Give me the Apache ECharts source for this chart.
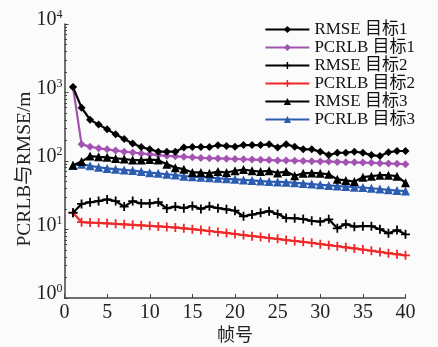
<!DOCTYPE html>
<html><head><meta charset="utf-8">
<script src="https://cdn.jsdelivr.net/npm/echarts@6/dist/echarts.min.js"></script>
<style>html,body{margin:0;padding:0;background:#fbfbfb}#c{width:438px;height:347px}</style>
</head><body><div id="c"></div>
<script>
const frames = [];
for (let i = 1; i <= 40; i++) frames.push(i);
const seriesNames = ['RMSE 目标1','PCRLB 目标1','RMSE 目标2','PCRLB 目标2','RMSE 目标3','PCRLB 目标3'];
const rmse1 = [1200,600,400,340,290,245,210,180,160,148,137,137,137,158,160,160,160,170,165,162,171,171,171,175,158,175,162,148,148,137,122,132,132,137,132,122,118,134,140,140];
const pcrlb1 = [1200,175,162,153,148,142,137,133,129,125,122,119,117,115,113,111,110,109,108,107,106,105,104,103,102,101.5,101,100,99,98.5,98,97,96,95.5,95,94,93,92,91,90];
const rmse2 = [17.6,23.6,25,26,27.5,26,21.6,26,24,24,25,20.3,21.6,20.5,22,20,21.8,20.5,19.7,18.8,15.6,16.5,17.5,18.5,16.8,14.7,14.6,14.2,13.4,13,14.1,10.4,12,11,11.2,11.2,10.1,8.8,9.8,8.5];
const pcrlb2 = [17.5,12.8,12.6,12.5,12.3,12.1,11.9,11.7,11.5,11.3,11.1,10.9,10.7,10.4,10.1,9.8,9.5,9.2,8.9,8.6,8.3,8.0,7.8,7.5,7.3,7.0,6.8,6.6,6.4,6.1,5.9,5.7,5.5,5.3,5.1,4.9,4.7,4.5,4.35,4.2];
const rmse3 = [87,98,118,115,113,109,107,103,103,105,103,90,80,76,68,68,66,70,68,72,75,72,70,72,67,70,61,66,67,66,64,54,52,50,58,60,62,62,60,48];
const pcrlb3 = [86,90,85,81,78,76,74,72.5,70,67.5,66,64,62.5,60,59,58,57,56,55,54,53,52,51,50,49.5,49,48,47,46,45,44,43,42.5,41.5,41,40,39,38,37,36.5];
const xTicks = [0,5,10,15,20,25,30,35,40];
const yTicks = [1,10,100,1000,10000];

const plus = 'path://M4,0H6V4H10V6H6V10H4V6H0V4H4Z';
const colors = ['#000000','#a354b3','#000000','#f02828','#000000','#2c5cb0'];
const symbols = ['diamond','diamond',plus,plus,'triangle','triangle'];
const sizes = [8,8,9,9,9,9];
const datas = [rmse1,pcrlb1,rmse2,pcrlb2,rmse3,pcrlb3];

const chart = echarts.init(document.getElementById('c'), null, {renderer:'canvas'});
const serif = '"Liberation Serif","Times New Roman",serif';
chart.setOption({
  backgroundColor: '#fbfbfb',
  animation: false,
  grid: {left: 64.5, right: 32.5, top: 24, bottom: 49, containLabel: false, outerBoundsMode: 'none'},
  legend: {
    orient: 'vertical', right: 18, top: 16, itemGap: 1, itemWidth: 44, itemHeight: 9,
    textStyle: {fontFamily: serif + ',"Noto Sans CJK SC"', fontSize: 17, color: '#111', lineHeight: 17},
    data: seriesNames
  },
  xAxis: {
    type: 'value', min: 0, max: 40, interval: 5,
    name: '帧号', nameLocation: 'middle', nameGap: 27, nameMoveOverlap: false,
    nameTextStyle: {fontFamily: '"Noto Sans CJK SC"', fontSize: 18, color: '#222'},
    axisLine: {lineStyle: {color: '#444', width: 1.5}},
    axisTick: {inside: true, length: 4, lineStyle: {color: '#444'}},
    axisLabel: {fontFamily: serif, fontSize: 20, color: '#222', margin: 5},
    splitLine: {show: false}
  },
  yAxis: {
    type: 'log', logBase: 10, min: 1, max: 10000,
    name: 'PCRLB与RMSE/m', nameLocation: 'middle', nameGap: 30, nameMoveOverlap: false,
    nameTextStyle: {fontFamily: serif + ',"Noto Sans CJK SC"', fontSize: 19.5, color: '#222', padding: [0, 16, 0, 0]},
    axisLine: {show: true, lineStyle: {color: '#444', width: 1.5}},
    axisTick: {inside: true, length: 4, lineStyle: {color: '#444'}},
    minorTick: {show: true, splitNumber: 9, length: 2.5, lineStyle: {color: '#444'}},
    axisLabel: {
      margin: 2,
      padding: [0, 0, 8, 0],
      formatter: v => '{b|10}{s|' + Math.round(Math.log10(v)) + '}',
      rich: {
        b: {fontFamily: serif, fontSize: 20, color: '#222'},
        s: {fontFamily: serif, fontSize: 12, color: '#222', padding: [0,0,10,0]}
      }
    },
    splitLine: {show: false}
  },
  series: datas.map((d, i) => ({
    name: seriesNames[i], type: 'line',
    data: d.map((v, j) => [frames[j], v]),
    symbol: symbols[i], symbolSize: sizes[i],
    itemStyle: {color: colors[i]},
    lineStyle: {color: colors[i], width: 2.2},
    z: i % 2 === 0 ? 3 : 2
  }))
});
</script></body></html>
